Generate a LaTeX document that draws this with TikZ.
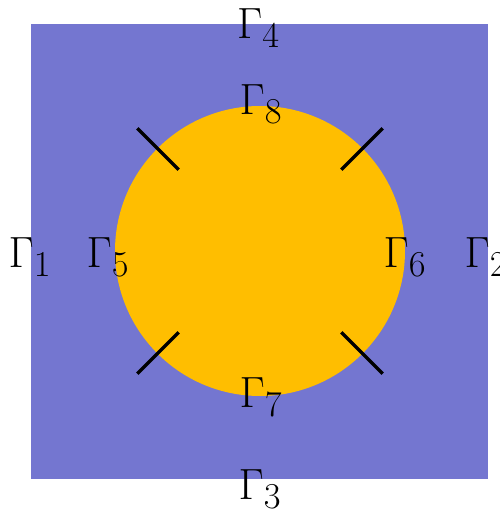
\documentclass[tikz,border=0pt]{standalone}
\definecolor{outerblue}{RGB}{116,118,208}
\definecolor{innergold}{RGB}{255,190,0}
\begin{document}
\begin{tikzpicture}
  \tikzset{lbl/.style={font=\Huge,inner sep=0pt},
    tick/.style={line width=2pt}}
  \useasboundingbox (-5.2,-5.16) rectangle (4.8,5.02);
  \fill[outerblue] (-4.57,-4.56) rectangle (4.57,4.54);
  \fill[innergold] (0,0) circle (2.9);
  \foreach \a in {45,135,225,315} {
    \coordinate (i\a) at (\a:2.3);
    \coordinate (o\a) at (\a:3.47);
    \draw[tick] (i\a) -- (o\a);
  }
  \node[lbl] (g1) at (-4.6,-0.12) {$\Gamma_1$};
  \node[lbl] (g2) at (4.52,-0.12) {$\Gamma_2$};
  \node[lbl] (g3) at (0,-4.76) {$\Gamma_3$};
  \node[lbl] (g4) at (-0.03,4.46) {$\Gamma_4$};
  \node[lbl] (g5) at (-3.04,-0.12) {$\Gamma_5$};
  \node[lbl] (g6) at (2.9,-0.12) {$\Gamma_6$};
  \node[lbl] (g7) at (0.02,-2.92) {$\Gamma_7$};
  \node[lbl] (g8) at (0.02,2.94) {$\Gamma_8$};
\end{tikzpicture}
\end{document}
